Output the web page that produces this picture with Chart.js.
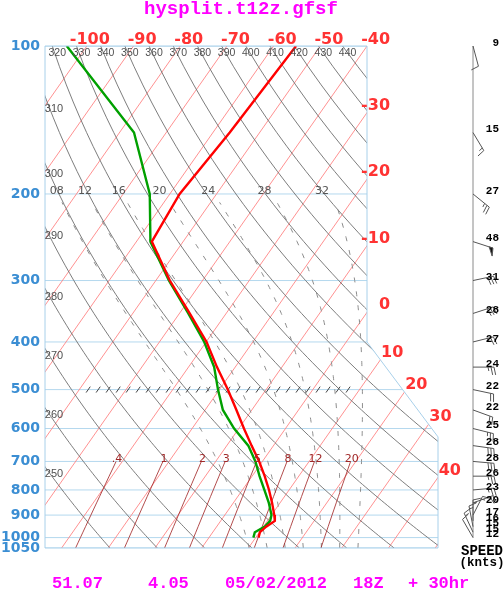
<!DOCTYPE html>
<html>
<head>
<meta charset="utf-8">
<title>hysplit skew-T</title>
<script src="https://cdn.jsdelivr.net/npm/chart.js@4.4.1/dist/chart.umd.min.js"></script>
<style>
html,body{margin:0;padding:0;background:#ffffff;overflow:hidden;}
#box{position:relative;width:504px;height:592px;}
canvas{display:block;}
</style>
</head>
<body>
<div id="box"><canvas id="skewt" width="504" height="592"></canvas></div>
<script>
// ------------------------------------------------------------------ data
const titleText = 'hysplit.t12z.gfsf';
const footerTexts = ['51.07', '4.05', '05/02/2012', '18Z', '+ 30hr'];
const pressureTicks = [100, 200, 300, 400, 500, 600, 700, 800, 900, 1000, 1050];
const levels      = [100, 150, 200, 250, 300, 350, 400, 450, 500, 550, 600, 650, 700, 750, 800, 850, 900, 925, 950, 975, 1000];
const temperature = [-55.2, -56.4, -57.9, -56.7, -47.0, -37.8, -29.9, -23.9, -18.2, -13.3, -8.9, -4.7, -0.7, 2.7, 5.7, 8.3, 10.6, 11.6, 10.6, 10.1, 10.6];
const dewpoint    = [-104.3, -76.9, -64.3, -57.0, -47.2, -38.1, -30.4, -24.5, -20.3, -16.2, -11.0, -5.4, -1.5, 1.6, 4.7, 7.6, 10.0, 10.6, 10.3, 9.0, 9.5];
const windSpeed   = [9, 15, 27, 48, 31, 28, 27, 24, 22, 22, 25, 28, 28, 26, 23, 20, 17, 16, 15, 15, 12];
const windDirection = [165, 149, 129, 108, 78, 72, 76, 90, 102, 110, 104, 98, 95, 90, 85, 70, 27, 0, 349, 335, 330];
const isotherms = [-110, -100, -90, -80, -70, -60, -50, -40, -30, -20, -10, 0, 10, 20, 30, 40, 50];
const topIsothermLabels = [-100, -90, -80, -70, -60, -50, -40];
const rightIsothermLabels = [-30, -20, -10, 0, 10, 20, 30, 40];
const dryAdiabats = [250, 260, 270, 280, 290, 300, 310, 320, 330, 340, 350, 360, 370, 380, 390, 400, 410, 420, 430, 440];
const leftThetaLabels = [250, 260, 270, 280, 290, 300, 310];
const topThetaLabels = [320, 330, 340, 350, 360, 370, 380, 390, 400, 410, 420, 430, 440];
const moistAdiabats = [8, 12, 16, 20, 24, 28, 32];
const mixingRatios = [0.4, 1, 2, 3, 5, 8, 12, 20];
const hatchLevel = 500;
const hatchRange = [-24.3, 32.8];

// ------------------------------------------------------------------ diagram geometry
const SKEW = 32.07;                 // skew of the isotherms
const X_MIN = -33.55, X_MAX = 50.6; // skewed temperature range of the plot box
const FRAME_X = [X_MIN, 35.4, 35.4, X_MAX, X_MAX, X_MIN];
const FRAME_P = [100, 100, 400, 624, 1050, 1050];

function skewX(T, p) { return T + SKEW * Math.log(1050 / p); }
function pressRange(p0, p1, step) { const a = []; for (let p = p0; step > 0 ? p <= p1 : p >= p1; p += step) a.push(p); return a; }

function dryT(theta, p) { return theta * Math.pow(p / 1000, 0.2857) - 273.15; }
function satMix(p, Tc) { const es = 6.112 * Math.exp(17.67 * Tc / (Tc + 243.5)); return 0.622 * es / (p - es); }
function moistRate(p, T) {
  const Rd = 287.04, cp = 1005.7, L = 2.501e6, eps = 0.622;
  const r = satMix(p, T - 273.15);
  return (Rd * T + L * r) / (cp + (L * L * r * eps) / (Rd * T * T)) / p;
}
function moistLine(tw, pTop) {
  const down = [], up = [];
  let T = tw + 273.15, p = 1000;
  while (p < 1050) { T += moistRate(p, T) * 1; p += 1; }
  down.push({ x: skewX(T - 273.15, 1050), y: 1050 });
  T = tw + 273.15; p = 1000;
  up.push({ x: skewX(tw, 1000), y: 1000 });
  while (p > pTop) {
    T -= moistRate(p, T) * 1; p -= 1;
    if (p % 5 === 0 || p === pTop) up.push({ x: skewX(T - 273.15, p), y: p });
  }
  return down.concat(up);
}
function mixTd(w, p) { const e = (w / 1000) * p / (0.622 + w / 1000); const l = Math.log(e / 6.112); return 243.5 * l / (17.67 - l); }

// ------------------------------------------------------------------ datasets
const lineDs = (data, color, width, extra) => Object.assign({
  data, showLine: true, borderColor: color, borderWidth: width, pointRadius: 0, fill: false, tension: 0
}, extra || {});

const datasets = [];
datasets.push(lineDs(levels.map((p, i) => ({ x: skewX(temperature[i], p), y: p })), '#ff0000', 2.4));
datasets.push(lineDs(levels.map((p, i) => ({ x: skewX(dewpoint[i], p), y: p })), '#00a000', 2.4));
const hatchPts = [];
for (let X = hatchRange[0]; X <= hatchRange[1]; X += 2.14) hatchPts.push({ x: X, y: hatchLevel });
datasets.push({ data: hatchPts, showLine: false, pointStyle: 'line', pointRadius: 3.6, rotation: -55,
  borderColor: '#444', pointBorderColor: '#444', pointBorderWidth: 1, borderWidth: 1 });
mixingRatios.forEach(w => datasets.push(lineDs(pressRange(1050, 700, -25).map(p => ({ x: skewX(mixTd(w, p), p), y: p })), 'rgba(165,45,45,0.85)', 1)));
moistAdiabats.forEach(tw => datasets.push(lineDs(moistLine(tw, 208), '#8c8c8c', 1, { borderDash: [5, 9] })));
dryAdiabats.forEach(th => datasets.push(lineDs(pressRange(1050, 100, -10).map(p => ({ x: skewX(dryT(th, p), p), y: p })), '#6e6e6e', 0.9)));
isotherms.forEach(T => datasets.push(lineDs([{ x: skewX(T, 100), y: 100 }, { x: skewX(T, 1050), y: 1050 }], '#ff8585', 0.9)));
pressureTicks.forEach(p => datasets.push(lineDs([{ x: X_MIN - 5, y: p }, { x: X_MAX + 5, y: p }], '#b4d8ee', 1)));

// ------------------------------------------------------------------ drawing helpers
function framePath(ctx, chart) {
  const xs = chart.scales.x, ys = chart.scales.y;
  ctx.beginPath();
  FRAME_X.forEach((X, i) => {
    const px = xs.getPixelForValue(X), py = ys.getPixelForValue(FRAME_P[i]);
    if (i === 0) ctx.moveTo(px, py); else ctx.lineTo(px, py);
  });
  ctx.closePath();
}
function segX(a, b, c, d) {
  const r = [b[0] - a[0], b[1] - a[1]], s = [d[0] - c[0], d[1] - c[1]];
  const den = r[0] * s[1] - r[1] * s[0];
  if (Math.abs(den) < 1e-9) return null;
  const t = ((c[0] - a[0]) * s[1] - (c[1] - a[1]) * s[0]) / den;
  const u = ((c[0] - a[0]) * r[1] - (c[1] - a[1]) * r[0]) / den;
  if (t < -1e-6 || t > 1 + 1e-6 || u < -1e-6 || u > 1 + 1e-6) return null;
  return [a[0] + t * r[0], a[1] + t * r[1]];
}
function drawBarb(ctx, x, y, dir, spd) {
  const L = 21, b = dir * Math.PI / 180;
  const ux = Math.sin(b), uy = -Math.cos(b);
  const ex = x + ux * L, ey = y + uy * L;
  const th = 78 * Math.PI / 180;
  const bx = ux * Math.cos(th) - uy * Math.sin(th), by = ux * Math.sin(th) + uy * Math.cos(th);
  ctx.beginPath(); ctx.moveTo(x, y); ctx.lineTo(ex, ey); ctx.stroke();
  let s = Math.round(spd / 5) * 5, pos = 0;
  const full = 8, gap = 3;
  while (s >= 50) {
    const px = ex - ux * pos, py = ey - uy * pos;
    ctx.beginPath(); ctx.moveTo(px, py); ctx.lineTo(px + bx * full, py + by * full);
    ctx.lineTo(px - ux * 4, py - uy * 4); ctx.closePath(); ctx.fillStyle = '#111'; ctx.fill(); ctx.stroke();
    pos += 5; s -= 50;
  }
  while (s >= 10) {
    const px = ex - ux * pos, py = ey - uy * pos;
    ctx.beginPath(); ctx.moveTo(px, py); ctx.lineTo(px + bx * full, py + by * full); ctx.stroke();
    pos += gap; s -= 10;
  }
  if (s >= 5) {
    if (pos === 0) pos = gap;
    const px = ex - ux * pos, py = ey - uy * pos;
    ctx.beginPath(); ctx.moveTo(px, py); ctx.lineTo(px + bx * full / 2, py + by * full / 2); ctx.stroke();
  }
}

const decor = {
  id: 'skewDecor',
  beforeDatasetsDraw(chart) {
    const ctx = chart.ctx;
    ctx.save(); framePath(ctx, chart); ctx.clip();
  },
  afterDatasetsDraw(chart) {
    const ctx = chart.ctx, xs = chart.scales.x, ys = chart.scales.y, ca = chart.chartArea;
    ctx.restore();
    ctx.save();
    // frame
    ctx.strokeStyle = '#a8d0ea'; ctx.lineWidth = 1; framePath(ctx, chart); ctx.stroke();
    const X = (T, p) => xs.getPixelForValue(skewX(T, p));
    const Y = p => ys.getPixelForValue(p);
    ctx.textBaseline = 'middle';
    // isotherm labels (top)
    ctx.fillStyle = '#ff3333'; ctx.font = "bold 16px 'DejaVu Sans', sans-serif"; ctx.textAlign = 'right';
    topIsothermLabels.forEach(T => ctx.fillText(String(T), X(T, 100) + 23, Y(100) - 6));
    // isotherm labels (right boundary)
    const fr = FRAME_X.map((fx, i) => [xs.getPixelForValue(fx), ys.getPixelForValue(FRAME_P[i])]);
    rightIsothermLabels.forEach(T => {
      const a = [X(T, 100), Y(100)], b = [X(T, 1050), Y(1050)];
      let hit = null;
      for (let i = 1; i <= 3 && !hit; i++) hit = segX(a, b, fr[i], fr[i + 1]);
      if (hit) ctx.fillText(String(T), hit[0] + 23, hit[1] - 7);
    });
    // dry adiabat labels
    ctx.fillStyle = '#505050'; ctx.font = "10.5px 'Liberation Sans', sans-serif"; ctx.textAlign = 'center';
    topThetaLabels.forEach(th => ctx.fillText(String(th), X(dryT(th, 100), 100) + 5, Y(100) + 7));
    ctx.font = "11px 'Liberation Sans', sans-serif";
    leftThetaLabels.forEach(th => {
      const target = ca.left + 5;
      let prev = null;
      for (let p = 1050; p >= 100; p -= 1) {
        const px = X(dryT(th, p), p);
        if (prev !== null && prev > target && px <= target) { ctx.fillText(String(th), ca.left + 9, Y(p)); break; }
        prev = px;
      }
    });
    // moist adiabat labels
    ctx.font = "11px 'DejaVu Sans', sans-serif"; ctx.fillStyle = '#555';
    moistAdiabats.forEach(tw => {
      const pts = moistLine(tw, 205); const last = pts[pts.length - 1];
      const t = String(tw).padStart(2, '0');
      ctx.fillText(t, xs.getPixelForValue(last.x) - (1 + 0.35 * tw), Y(200) - 3);
    });
    // mixing ratio labels
    ctx.fillStyle = '#a02828';
    mixingRatios.forEach(w => {
      const t = w < 1 ? String(w).replace(/^0/, '') : String(w);
      ctx.fillText(t, X(mixTd(w, 700), 700) + 1, Y(700) - 2);
    });
    // wind barbs
    const sx = ca.right + 35;
    ctx.strokeStyle = '#8a8a8a'; ctx.lineWidth = 1;
    ctx.beginPath(); ctx.moveTo(sx, Y(levels[0])); ctx.lineTo(sx, Y(levels[levels.length - 1])); ctx.stroke();
    ctx.strokeStyle = '#555';
    levels.forEach((p, i) => drawBarb(ctx, sx, Y(p), windDirection[i], windSpeed[i]));
    ctx.fillStyle = '#000'; ctx.font = "bold 11px 'Liberation Mono', monospace"; ctx.textAlign = 'right';
    levels.forEach((p, i) => ctx.fillText(String(windSpeed[i]), sx + 26, Y(p) - 3));
    ctx.textAlign = 'center';
    ctx.font = "bold 14px 'Liberation Mono', monospace"; ctx.fillText('SPEED', sx + 9, Y(1050) + 3);
    ctx.font = "bold 12.5px 'Liberation Mono', monospace"; ctx.fillText('(knts)', sx + 9, Y(1050) + 15);
    // title and footer
    ctx.fillStyle = '#ff00ff'; ctx.textAlign = 'left';
    ctx.font = "bold 19px 'Liberation Mono', monospace";
    ctx.fillText(titleText, 144, 9);
    ctx.font = "bold 17px 'Liberation Mono', monospace";
    const fx = [52, 148, 225, 353, 408];
    footerTexts.forEach((t, i) => ctx.fillText(t, fx[i], 584));
    ctx.restore();
  }
};

new Chart(document.getElementById('skewt'), {
  type: 'scatter',
  data: { datasets },
  options: {
    responsive: false, animation: false, devicePixelRatio: 1, events: [],
    layout: { padding: { left: 0, top: 46, right: 66, bottom: 44 } },
    plugins: { legend: { display: false }, tooltip: { enabled: false }, title: { display: false } },
    scales: {
      x: { type: 'linear', min: X_MIN, max: X_MAX, bounds: 'data', display: false },
      y: {
        type: 'logarithmic', reverse: true, min: 100, max: 1050, bounds: 'data',
        grid: { display: false, drawTicks: false }, border: { display: false },
        afterBuildTicks: s => { s.ticks = pressureTicks.map(v => ({ value: v })); },
        afterFit: s => { s.width = 45; },
        ticks: { autoSkip: false, padding: 5, color: '#3b8ed3', font: { family: "'DejaVu Sans', sans-serif", size: 14, weight: 'bold' },
          callback: v => String(v) }
      }
    }
  },
  plugins: [decor]
});
</script>
</body>
</html>
